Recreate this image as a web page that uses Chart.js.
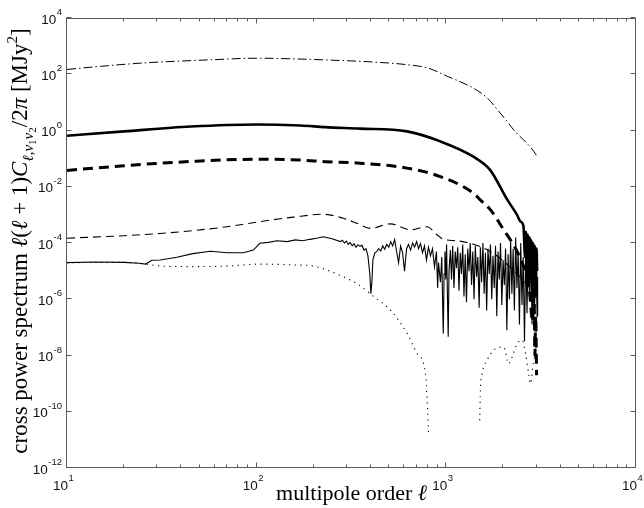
<!DOCTYPE html>
<html>
<head>
<meta charset="utf-8">
<script src="https://cdn.jsdelivr.net/npm/chart.js@4.4.1/dist/chart.umd.min.js"></script>
<style>
  html, body { margin: 0; padding: 0; background: #fff; }
  #wrap { width: 644px; height: 508px; }
</style>
</head>
<body>
<div id="wrap"><canvas id="c" width="644" height="508"></canvas></div>
<script>
// tick positions / labels (log axes, MATLAB style "10^n")
const xMajor = [10, 100, 1000, 10000];
const xExp = ['1', '2', '3', '4'];
const xMinor = [20, 30, 40, 50, 60, 70, 80, 90, 200, 300, 400, 500, 600, 700, 800, 900,
                2000, 3000, 4000, 5000, 6000, 7000, 8000, 9000];
const yMajor = [1e-12, 1e-10, 1e-8, 1e-6, 1e-4, 1e-2, 1, 1e2, 1e4];
const yExp = ['-12', '-10', '-8', '-6', '-4', '-2', '0', '2', '4'];

// dash-dot curve (top)
const ddL = [10, 15, 25, 40, 60, 100, 150, 250, 400, 620, 800, 1010, 1390, 1640, 1860, 2090, 2300, 2550, 2800, 3000];
const ddV = [148, 191, 251, 295, 331, 372, 355, 316, 275, 219, 166, 85, 32, 14.5, 5.5, 2.1, 0.93, 0.47, 0.24, 0.126];

// thick solid curve
const tsL = [10, 20, 45, 100, 170, 230, 350, 620, 930, 1390, 1700, 2100, 2360, 2460, 2550, 2600, 2630, 2660, 2690,
             2720, 2750, 2780, 2810, 2840, 2870, 2900, 2930, 2960, 2990, 3010];
const tsV = [0.65, 0.93, 1.38, 1.64, 1.51, 1.32, 1.17, 0.93, 0.41, 0.117, 0.040, 3.4e-3, 1.0e-3, 5.8e-4, 4.0e-4, 3.2e-5,
             2.5e-4, 6.3e-6, 2.0e-4, 3.2e-6, 1.6e-4, 1.0e-5, 1.26e-4, 1.6e-6, 1.0e-4, 5.0e-6, 7.9e-5, 1.26e-6, 6.3e-5, 1.0e-5];

// thick dashed curve
const tdL = [10, 20, 45, 100, 170, 230, 350, 620, 930, 1390, 1510, 1710, 2010, 2230, 2400, 2600, 2750, 2850, 2900, 2930, 2960, 2990];
const tdV = [0.038, 0.056, 0.079, 0.095, 0.089, 0.078, 0.069, 0.046, 0.023, 5.9e-3, 3.4e-3, 1.5e-3, 2.9e-4, 1.0e-4,
             4.0e-5, 1.0e-5, 1.6e-6, 1.6e-7, 2.5e-6, 1.0e-8, 2.5e-7, 2.0e-9];

// thin dashed curve
const tnL = [10, 20, 31, 46, 70, 104, 156, 224, 286, 338, 397, 507, 646, 791, 890, 964, 1138, 1400, 1800, 2200, 2600, 3000];
const tnV = [1.48e-4, 1.82e-4, 2.19e-4, 2.75e-4, 3.8e-4, 5.75e-4, 8.3e-4, 1.05e-3, 7.6e-4, 5.0e-4, 3.3e-4, 4.8e-4,
             2.95e-4, 3.8e-4, 2.0e-4, 1.35e-4, 1.2e-4, 8.9e-5, 4.0e-5, 1.26e-5, 4.0e-6, 1.26e-6];

// thin solid, noisy curve
const nsL = [10, 14, 20, 24, 26, 28, 31, 38, 46, 57, 70, 85, 96, 104, 115, 128, 145, 160, 175, 191, 210, 224, 250,
             276, 283, 290, 297, 304, 311, 319, 326, 334, 342, 350, 359, 368, 377, 386, 395, 400, 405, 410, 420,
             430, 440, 451, 462, 473, 485, 497, 509, 521, 534, 547, 560, 574, 588, 602, 617, 632, 648, 664, 680,
             697, 714, 731, 749, 767, 786, 805, 825, 845, 866, 887, 900, 909, 931, 946, 955, 964, 973, 983, 993,
             1003, 1013, 1023, 1033,
             1050, 1065, 1080, 1097, 1114, 1131, 1148, 1166, 1184, 1202, 1220, 1239, 1258, 1277, 1297, 1317,
             1337, 1358, 1379, 1400, 1422, 1444, 1466, 1489, 1512, 1535, 1559, 1583, 1607, 1632, 1657, 1683,
             1709, 1735, 1762, 1789, 1817, 1845, 1873, 1902, 1931, 1961, 1991, 2022, 2053, 2085, 2117, 2150,
             2183, 2216, 2250, 2285, 2320, 2356, 2392, 2429, 2467, 2505, 2543, 2583, 2622, 2663, 2704, 2746,
             2788, 2831, 2875, 2919, 2964, 3010, 3030];
const nsV = [2.0e-5, 2.1e-5, 2.05e-5, 1.9e-5, 1.78e-5, 2.45e-5, 2.5e-5, 3.1e-5, 4.2e-5, 5.1e-5, 4.5e-5, 4.5e-5,
             5.6e-5, 9.8e-5, 1.05e-4, 1.2e-4, 1.12e-4, 1.29e-4, 1.2e-4, 1.35e-4, 1.5e-4, 1.66e-4, 1.41e-4,
             1.12e-4, 1.26e-4, 1.0e-4, 1.17e-4, 8.9e-5, 1.05e-4, 7.9e-5, 9.5e-5, 7.1e-5, 8.7e-5, 7.6e-5, 8.3e-5,
             5.6e-5, 6.3e-5, 3.5e-5, 7.9e-6, 1.58e-6, 4.0e-6, 2.5e-5, 4.5e-5,
             5.0e-5, 6.3e-5, 5.2e-5, 7.9e-5, 6.0e-5, 8.9e-5, 7.1e-5, 1.12e-4, 7.9e-5, 1.32e-4, 5.0e-5, 2.0e-5,
             7.9e-5, 4.5e-5, 1.0e-5, 6.3e-5, 8.9e-5, 5.6e-5, 1.0e-4, 7.1e-5,
             1.12e-4, 6.3e-5, 9.5e-5, 4.5e-5, 7.9e-5, 2.5e-5, 7.1e-5, 3.5e-5, 6.3e-5, 1.41e-5, 5.0e-5, 2.5e-6,
             2.0e-5, 4.0e-6, 3.2e-5, 1.0e-6, 6.0e-8, 7.9e-6, 5.0e-5, 5.0e-6,
             8.9e-5, 1.58e-6, 4.6e-8, 1.0e-5,
             5.6e-5, 5.0e-6, 7.9e-5, 2.5e-6, 5.0e-5, 1.26e-5, 7.1e-5, 2.0e-6, 4.5e-5, 7.9e-6, 8.9e-5, 1.26e-6,
             4.0e-5, 7.9e-7, 6.3e-5, 1.0e-5,
             1.0e-4, 3.2e-6, 5.0e-5, 1.0e-6, 7.9e-5, 6.3e-6, 3.2e-5, 5.0e-7, 7.1e-5, 4.0e-6, 1.0e-4, 1.58e-6,
             4.5e-5, 4.0e-7, 6.3e-5, 7.9e-6,
             8.9e-5, 1.0e-6, 3.5e-5, 2.5e-6, 7.9e-5, 2.5e-7, 5.0e-5, 5.0e-6, 1.0e-4, 6.3e-7, 2.5e-5, 3.2e-6,
             6.3e-5, 7.9e-8, 4.0e-5, 1.0e-6,
             1.26e-4, 1.58e-6, 6.3e-5, 4.0e-7, 1.58e-4, 2.5e-6, 5.0e-5, 1.26e-7, 1.0e-4, 6.3e-7, 3.2e-5, 3.2e-8,
             7.9e-5, 3.2e-7, 1.0e-4, 1.0e-6,
             4.0e-5, 1.26e-7, 7.9e-5, 5.0e-7, 6.3e-5, 2.5e-7, 6.3e-6];

// dotted curve (gap where it goes negative)
const dotL = [10, 20, 24, 28, 31, 46, 70, 104, 156, 199, 234, 286, 338, 415, 507, 622, 702, 776, 792, 806, 1150,
              1500, 1512, 1545, 1640, 1778, 2006, 2131, 2222, 2362, 2512, 2614, 2716, 2775, 2889, 2950];
const dotV = [2.0e-5, 2.05e-5, 1.9e-5, 1.66e-5, 1.51e-5, 1.45e-5, 1.51e-5, 1.78e-5, 1.66e-5, 1.51e-5, 1.1e-5,
              6.3e-6, 3.6e-6, 1.23e-6, 4.1e-7, 6.0e-8, 1.17e-8, 2.3e-9, 2.5e-10, 1.66e-11, null,
              5.0e-11, 5.75e-10, 2.3e-9, 6.8e-9, 1.55e-8, 2.0e-8, 5.1e-9, 8.9e-9, 2.6e-8, 3.5e-8, 1.17e-8,
              2.3e-9, 1.0e-9, 6.8e-9, 8.9e-9];

const SANS = '"Liberation Sans", Arial, sans-serif';
const SERIF = '"Liberation Serif", "Times New Roman", serif';

function pts(L, V) { return L.map((l, i) => ({ x: l, y: V[i] })); }

function series(L, V, w, dash, smooth) {
  return {
    data: pts(L, V), borderColor: '#000', borderWidth: w, borderDash: dash,
    pointRadius: 0, showLine: true, fill: false, spanGaps: false, tension: 0,
    cubicInterpolationMode: smooth ? 'monotone' : 'default'
  };
}

function drawRich(ctx, segs, x, y) {
  let cx = x;
  for (const s of segs) {
    ctx.font = (s.i ? 'italic ' : '') + s.s + 'px ' + SERIF;
    ctx.fillText(s.t, cx, y + (s.dy || 0));
    cx += ctx.measureText(s.t).width;
  }
}
function richWidth(ctx, segs) {
  let w = 0;
  for (const s of segs) { ctx.font = (s.i ? 'italic ' : '') + s.s + 'px ' + SERIF; w += ctx.measureText(s.t).width; }
  return w;
}

const yTitle = [
  { t: 'cross power spectrum ', s: 23 },
  { t: 'ℓ', s: 23, i: true }, { t: '(', s: 23 }, { t: 'ℓ', s: 23, i: true }, { t: ' + 1)', s: 23 },
  { t: 'C', s: 23, i: true },
  { t: 'ℓ', s: 15, i: true, dy: 6 }, { t: ',', s: 15, dy: 6 },
  { t: 'ν', s: 15, i: true, dy: 6 }, { t: '1', s: 11, dy: 9 },
  { t: 'ν', s: 15, i: true, dy: 6 }, { t: '2', s: 11, dy: 9 },
  { t: '/2', s: 23 }, { t: 'π', s: 23, i: true },
  { t: ' [MJy', s: 23 }, { t: '2', s: 15, dy: -10 }, { t: ']', s: 23 }
];
const xTitle = [{ t: 'multipole order ', s: 22 }, { t: 'ℓ', s: 22, i: true }];

const axesPlugin = {
  id: 'matlabAxes',
  afterDatasetsDraw(chart) {
    const { ctx, chartArea: a, scales: { x, y } } = chart;
    const L = Math.round(a.left) - 0.5, R = Math.round(a.right) - 0.5;
    const T = Math.round(a.top) + 0.5, B = Math.round(a.bottom) - 0.5;
    ctx.save();
    ctx.strokeStyle = '#5a5a5a';
    ctx.lineWidth = 1;
    ctx.strokeRect(L, T, R - L, B - T);
    ctx.beginPath();
    for (const v of xMajor) {
      const px = Math.round(x.getPixelForValue(v)) - 0.5;
      ctx.moveTo(px, B); ctx.lineTo(px, B - 5);
      ctx.moveTo(px, T); ctx.lineTo(px, T + 5);
    }
    for (const v of xMinor) {
      const px = Math.round(x.getPixelForValue(v)) - 0.5;
      ctx.moveTo(px, B); ctx.lineTo(px, B - 3);
      ctx.moveTo(px, T); ctx.lineTo(px, T + 3);
    }
    for (const v of yMajor) {
      const py = Math.round(y.getPixelForValue(v)) - 0.5;
      ctx.moveTo(L, py); ctx.lineTo(L + 5, py);
      ctx.moveTo(R, py); ctx.lineTo(R - 5, py);
    }
    ctx.stroke();

    // tick labels: "10" plus superscript exponent
    ctx.fillStyle = '#111';
    ctx.textBaseline = 'alphabetic';
    xMajor.forEach((v, i) => {
      const px = x.getPixelForValue(v);
      ctx.font = '13.5px ' + SANS; ctx.textAlign = 'right';
      ctx.fillText('10', px + 1, 490);
      ctx.font = '9.5px ' + SANS; ctx.textAlign = 'left';
      ctx.fillText(xExp[i], px + 1.5, 481);
    });
    yMajor.forEach((v, i) => {
      const py = y.getPixelForValue(v);
      ctx.font = '9.5px ' + SANS;
      const ew = ctx.measureText(yExp[i]).width;
      const right = 62;
      ctx.textAlign = 'right';
      ctx.fillText(yExp[i], right, py - 3);
      ctx.font = '13.5px ' + SANS;
      ctx.fillText('10', right - ew - 0.5, py + 5.5);
    });
    ctx.restore();
  },
  afterDraw(chart) {
    const { ctx, chartArea: a } = chart;
    ctx.save();
    ctx.fillStyle = '#000';
    ctx.textAlign = 'left';
    ctx.textBaseline = 'alphabetic';
    const wx = richWidth(ctx, xTitle);
    drawRich(ctx, xTitle, (a.left + a.right) / 2 - wx / 2, 500);
    const wy = richWidth(ctx, yTitle);
    ctx.translate(27, 241);
    ctx.rotate(-Math.PI / 2);
    drawRich(ctx, yTitle, -wy / 2, 0);
    ctx.restore();
  }
};

new Chart(document.getElementById('c'), {
  type: 'scatter',
  data: {
    datasets: [
      series(dotL, dotV, 1.1, [1.2, 4.5], true),
      series(nsL, nsV, 1.1, [], false),
      series(tnL, tnV, 1.1, [8, 5], true),
      series(ddL, ddV, 1, [9, 3, 1.5, 3], true),
      series(tdL, tdV, 3, [10, 6], true),
      series(tsL, tsV, 2.6, [], true)
    ]
  },
  options: {
    responsive: false,
    animation: false,
    events: [],
    layout: { padding: { top: 18, right: 8, left: 0, bottom: 0 } },
    plugins: { legend: { display: false }, tooltip: { enabled: false } },
    scales: {
      x: {
        type: 'logarithmic', min: 10, max: 10000,
        grid: { display: false }, border: { display: false }, ticks: { display: false },
        afterFit(s) { s.height = 40; }
      },
      y: {
        type: 'logarithmic', min: 1e-12, max: 1e4,
        grid: { display: false }, border: { display: false }, ticks: { display: false },
        afterFit(s) { s.width = 67; }
      }
    }
  },
  plugins: [axesPlugin]
});
</script>
</body>
</html>
